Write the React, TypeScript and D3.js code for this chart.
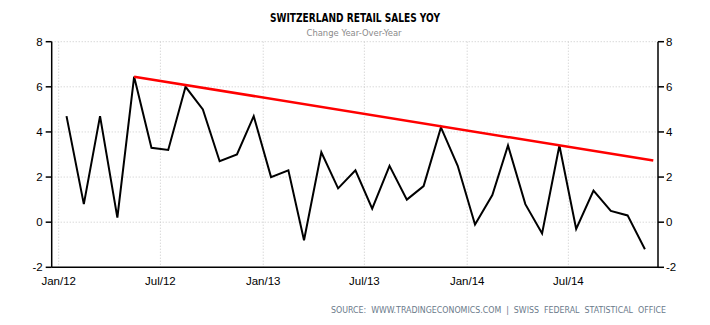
import React, { useEffect } from "react";
import * as d3 from "d3";

const months: string[] = [
  "2012-01", "2012-02", "2012-03", "2012-04", "2012-05", "2012-06", "2012-07", "2012-08", "2012-09", "2012-10", "2012-11", "2012-12",
  "2013-01", "2013-02", "2013-03", "2013-04", "2013-05", "2013-06", "2013-07", "2013-08", "2013-09", "2013-10", "2013-11", "2013-12",
  "2014-01", "2014-02", "2014-03", "2014-04", "2014-05", "2014-06", "2014-07", "2014-08", "2014-09", "2014-10", "2014-11",
];
const values: number[] = [
  4.7, 0.8, 4.7, 0.2, 6.45, 3.3, 3.2, 6.0, 5.0, 2.7, 3.0, 4.7,
  2.0, 2.3, -0.8, 3.1, 1.5, 2.3, 0.6, 2.5, 1.0, 1.6, 4.2, 2.5,
  -0.1, 1.2, 3.4, 0.8, -0.5, 3.4, -0.3, 1.4, 0.5, 0.3, -1.2,
];
const trendDates: string[] = ["2012-05-15", "2014-11-30"];
const trendValues: number[] = [6.45, 2.73];
const yTicks: number[] = [-2, 0, 2, 4, 6, 8];
const xTickDates: string[] = ["2012-01-01", "2012-07-01", "2013-01-01", "2013-07-01", "2014-01-01", "2014-07-01"];
const xTickLabels: string[] = ["Jan/12", "Jul/12", "Jan/13", "Jul/13", "Jan/14", "Jul/14"];

const W = 710;
const H = 325;
const left = 51.7;
const right = 658;
const top = 41.7;
const bottom = 267.3;

const parse = (s: string) => new Date(s + "T00:00:00");

export default function App() {
  useEffect(() => {
    document.body.style.margin = "0";
  }, []);

  const x = d3
    .scaleTime()
    .domain([new Date("2011-12-19T12:00:00"), new Date("2014-12-08T10:00:00")])
    .range([left, right]);
  const y = d3.scaleLinear().domain([-2, 8]).range([bottom, top]);

  const pts = months.map((m, i) => ({ d: parse(m + "-15"), v: values[i] }));
  const line = d3
    .line<{ d: Date; v: number }>()
    .x((p) => x(p.d))
    .y((p) => y(p.v));
  const trend = trendDates.map((s, i) => ({ d: parse(s), v: trendValues[i] }));

  const font = "'DejaVu Sans', Verdana, sans-serif";
  const tickFont = "'Liberation Sans', Arial, sans-serif";

  return (
    <svg width={W} height={H} style={{ display: "block", background: "#fff" }}>
      <text x={355} y={22.3} textAnchor="middle" fontFamily={font} fontWeight="bold" fontSize={12}
        textLength={170} lengthAdjust="spacingAndGlyphs" fill="#000">
        SWITZERLAND RETAIL SALES YOY
      </text>
      <text x={354} y={35.5} textAnchor="middle" fontFamily={font} fontSize={9.5}
        textLength={95} lengthAdjust="spacingAndGlyphs" fill="#8a8a8a">
        Change Year-Over-Year
      </text>

      {/* grid */}
      {yTicks.filter((t) => t !== -2).map((t) => (
        <line key={"gy" + t} x1={left} x2={right} y1={y(t)} y2={y(t)} stroke="#c8c8c8" strokeWidth={1} strokeDasharray="1,2" />
      ))}
      {xTickDates.map((s) => (
        <line key={"gx" + s} x1={x(parse(s))} x2={x(parse(s))} y1={top} y2={bottom} stroke="#c8c8c8" strokeWidth={1} strokeDasharray="1,2" />
      ))}

      {/* axes */}
      <line x1={left} x2={left} y1={top} y2={bottom} stroke="#000" strokeWidth={1.5} />
      <line x1={right} x2={right} y1={top} y2={bottom} stroke="#000" strokeWidth={1.5} />
      <line x1={left} x2={right} y1={bottom} y2={bottom} stroke="#000" strokeWidth={1.5} />
      {yTicks.map((t) => (
        <g key={"yt" + t}>
          <line x1={left - 6} x2={left} y1={y(t)} y2={y(t)} stroke="#000" strokeWidth={1.5} />
          <line x1={right} x2={right + 6} y1={y(t)} y2={y(t)} stroke="#000" strokeWidth={1.5} />
          <text x={left - 9} y={y(t) + 4} textAnchor="end" fontFamily={tickFont} fontSize={11.5} fill="#000">{t}</text>
          <text x={right + 8} y={y(t) + 4} textAnchor="start" fontFamily={tickFont} fontSize={11.5} fill="#000">{t}</text>
        </g>
      ))}
      {xTickDates.map((s, i) => (
        <text key={"xl" + s} x={x(parse(s))} y={285} textAnchor="middle" fontFamily={tickFont} fontSize={11.5} fill="#000">
          {xTickLabels[i]}
        </text>
      ))}

      {/* series */}
      <path d={line(pts) || ""} fill="none" stroke="#000" strokeWidth={2} strokeLinejoin="miter" />
      <path d={line(trend) || ""} fill="none" stroke="#ff0000" strokeWidth={2.5} />

      <text x={666} y={313} textAnchor="end" fontFamily={font} fontSize={9} fill="#6a7a8a"
        textLength={335} lengthAdjust="spacingAndGlyphs" style={{ whiteSpace: "pre" }}>
        {"SOURCE:  WWW.TRADINGECONOMICS.COM  |  SWISS  FEDERAL  STATISTICAL  OFFICE"}
      </text>
    </svg>
  );
}
